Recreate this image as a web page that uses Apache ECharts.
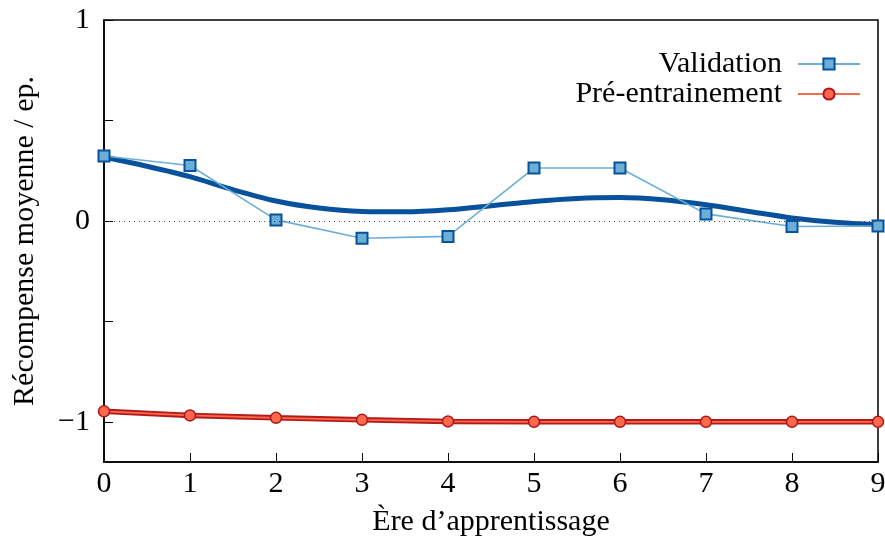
<!DOCTYPE html>
<html><head><meta charset="utf-8">
<script src="https://cdn.jsdelivr.net/npm/echarts@6/dist/echarts.min.js"></script>
<style>html,body{margin:0;padding:0;background:#fff}#c{width:885px;height:537px}</style>
</head><body><div id="c"></div>
<script>
const epochs = [0,1,2,3,4,5,6,7,8,9];
const validation = [0.323,0.276,0.005,-0.086,-0.077,0.263,0.263,0.035,-0.028,-0.025];
const pretraining = [-0.948,-0.968,-0.98,-0.99,-0.998,-1.0,-1.0,-1.0,-1.0,-1.0];
const trendX = [0,0.5,1,1.5,2,2.5,3,3.5,4,4.5,5,5.5,6,6.5,7,7.5,8,8.5,9];
const validationTrend = [0.318,0.272,0.22,0.155,0.099,0.064,0.047,0.045,0.055,0.075,0.097,0.112,0.116,0.105,0.08,0.047,0.015,-0.007,-0.02];
const yLabelValues = [-1,0,1];
const yTickValues = [-1,-0.5,0,0.5,1];
const FONT = 'Liberation Serif';
const FS = 30;

const chart = echarts.init(document.getElementById('c'), null, {renderer:'canvas'});
const pair = (xs, ys) => xs.map((x,i)=>[x, ys[i]]);
chart.setOption({
  animation:false,
  grid:{left:104,right:7,top:20,bottom:75,outerBoundsMode:'none',containLabel:false,show:true,borderColor:'#000',borderWidth:1.5,backgroundColor:'transparent'},
  legend:{
    orient:'vertical', right:19, top:44, align:'right', itemGap:0,
    itemWidth:62, itemHeight:14,
    data:['Validation','Pré-entrainement'],
    textStyle:{fontFamily:FONT,fontSize:FS,color:'#000',lineHeight:29,padding:[0,11,0,0]}
  },
  xAxis:{
    type:'value', min:0, max:9, interval:1,
    name:'Ère d’apprentissage', nameLocation:'middle', nameGap:45,
    nameTextStyle:{fontFamily:FONT,fontSize:FS,color:'#000'},
    axisLine:{show:true,onZero:false,lineStyle:{color:'#000',width:1.5}},
    axisTick:{show:true,inside:true,length:9,lineStyle:{color:'#000',width:1}},
    axisLabel:{fontFamily:FONT,fontSize:FS,color:'#000',margin:7},
    splitLine:{show:false}
  },
  yAxis:{
    type:'value', min:-1.2, max:1,
    name:'Récompense moyenne / ep.', nameLocation:'middle', nameGap:64,
    nameTextStyle:{fontFamily:FONT,fontSize:FS,color:'#000'},
    axisLine:{show:true,onZero:false,lineStyle:{color:'#000',width:1.5}},
    axisTick:{show:true,inside:true,length:9,customValues:yTickValues,lineStyle:{color:'#000',width:1}},
    axisLabel:{fontFamily:FONT,fontSize:FS,color:'#000',margin:14,customValues:yLabelValues,
      formatter:v=> v<0 ? '\u2212'+Math.abs(v) : String(v)},
    splitLine:{show:false}
  },
  series:[
    {name:'Validation trend', type:'line', data:pair(trendX, validationTrend), smooth:0.3, symbol:'none',
      lineStyle:{color:'#08519c',width:5}, z:2,
      markLine:{silent:true,symbol:'none',label:{show:false},
        lineStyle:{color:'#444',type:[1,4],width:1},data:[{yAxis:0}]}},
    {name:'Pré-entrainement trend', type:'line', data:pair(epochs, pretraining), symbol:'none',
      lineStyle:{color:'#b31b1b',width:5.5}, z:2},
    {name:'Validation', type:'line', data:pair(epochs, validation), symbol:'rect', symbolSize:11,
      lineStyle:{color:'#6baed6',width:1.6},
      itemStyle:{color:'#6baed6',borderColor:'#08519c',borderWidth:2}, z:3},
    {name:'Pré-entrainement', type:'line', data:pair(epochs, pretraining), symbol:'circle', symbolSize:11,
      lineStyle:{color:'#fb6a4a',width:1.8},
      itemStyle:{color:'#fb6a4a',borderColor:'#b2141c',borderWidth:1.5}, z:3}
  ]
});
</script></body></html>
